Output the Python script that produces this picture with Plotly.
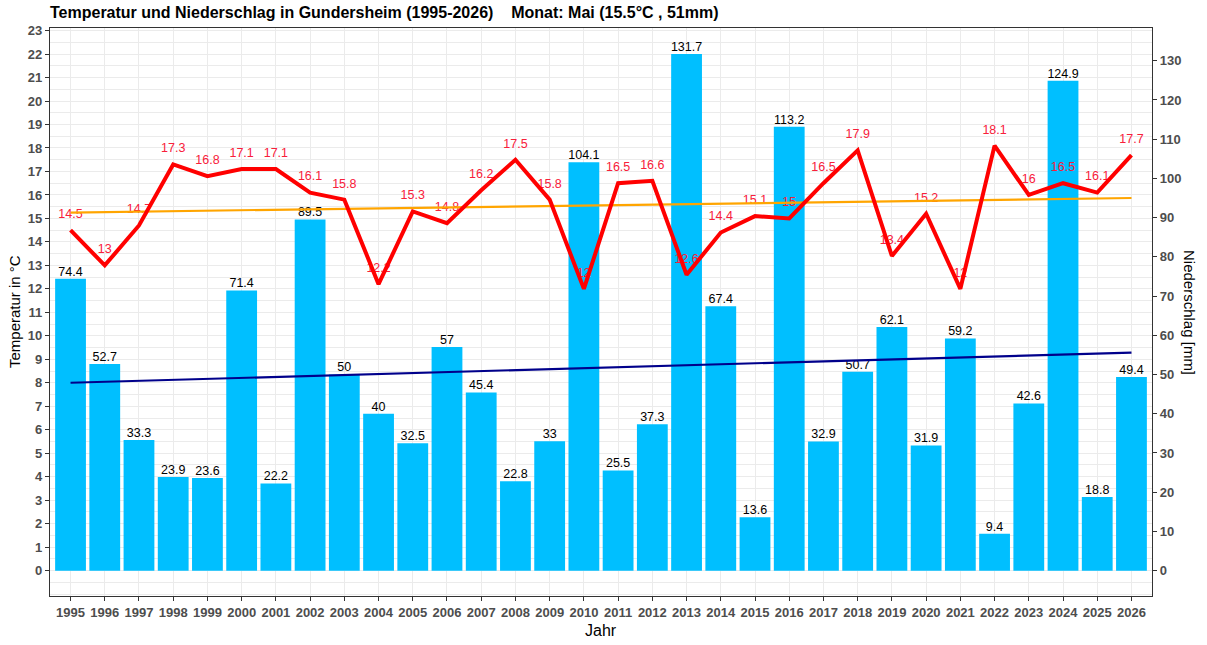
import plotly.graph_objects as go

years = list(range(1995, 2027))
precip_mm = [74.4, 52.7, 33.3, 23.9, 23.6, 71.4, 22.2, 89.5, 50, 40, 32.5, 57, 45.4, 22.8, 33,
             104.1, 25.5, 37.3, 131.7, 67.4, 13.6, 113.2, 32.9, 50.7, 62.1, 31.9, 59.2, 9.4,
             42.6, 124.9, 18.8, 49.4]
temp_c = [14.5, 13, 14.7, 17.3, 16.8, 17.1, 17.1, 16.1, 15.8, 12.2, 15.3, 14.8, 16.2, 17.5, 15.8,
          12, 16.5, 16.6, 12.6, 14.4, 15.1, 15, 16.5, 17.9, 13.4, 15.2, 12, 18.1, 16, 16.5, 16.1, 17.7]
trend_years = [1995, 2026]
temp_trend = [15.25, 15.87]
precip_trend = [47.9, 55.6]
temp_ticks = list(range(0, 24))
precip_ticks = list(range(0, 131, 10))

title_text = ("Temperatur und Niederschlag in Gundersheim (1995-2026)" + "\u00a0" * 4 +
              "Monat: Mai (15.5°C , 51mm)")

NARROW = "Liberation Sans Narrow, Arial Narrow, Liberation Sans, Arial, sans-serif"
SANS = "Liberation Sans, Arial, sans-serif"

scale = 131.7 / 22.0
t_lo, t_hi = -1.08, 23.11
label_offset = 0.65

fig = go.Figure()

fig.add_trace(go.Bar(x=years, y=precip_mm, width=0.9, marker=dict(color="#00BFFF", line=dict(width=0)),
                     yaxis="y", hoverinfo="skip"))
fig.add_trace(go.Scatter(x=years, y=precip_mm, mode="text", text=[f"{v:g}" for v in precip_mm],
                         textposition="top center", textfont=dict(family=SANS, size=12.5, color="black"),
                         yaxis="y", cliponaxis=False))
fig.add_trace(go.Scatter(x=trend_years, y=precip_trend, mode="lines",
                         line=dict(color="#00008B", width=2.2), yaxis="y"))

fig.add_trace(go.Scatter(x=years, y=[t + label_offset for t in temp_c], mode="text",
                         text=[f"{v:g}" for v in temp_c], textposition="middle center",
                         textfont=dict(family=SANS, size=12.5, color="#F8203A"), yaxis="y2"))
fig.add_trace(go.Scatter(x=trend_years, y=temp_trend, mode="lines",
                         line=dict(color="#FFA500", width=2.2), yaxis="y2"))
fig.add_trace(go.Scatter(x=years, y=temp_c, mode="lines",
                         line=dict(color="#FF0000", width=4.0), yaxis="y2"))

tickfont = dict(family=NARROW, size=13, color="#4D4D4D", weight="bold")

fig.update_layout(
    width=1207, height=645,
    margin=dict(l=50, r=55, t=28, b=49),
    paper_bgcolor="white", plot_bgcolor="white",
    showlegend=False,
    title=dict(text=title_text, x=50 / 1207, xanchor="left", y=1 - 12 / 645, yanchor="middle",
               font=dict(family=NARROW, size=16, color="black", weight="bold")),
    xaxis=dict(range=[1994.4, 2026.6], tickmode="array", tickvals=years, ticktext=[str(y) for y in years],
               showgrid=True, gridcolor="#EBEBEB", gridwidth=1, zeroline=False,
               showline=True, linecolor="#333333", linewidth=1.3, mirror=True,
               ticks="outside", ticklen=4, tickcolor="#333333", tickfont=tickfont),
    yaxis=dict(range=[t_lo * scale, t_hi * scale], side="right", tickmode="array", tickvals=precip_ticks,
               showgrid=False, zeroline=False, showline=True, linecolor="#333333", linewidth=1.3,
               ticks="outside", ticklen=4, tickcolor="#333333", tickfont=tickfont),
    yaxis2=dict(range=[t_lo, t_hi], side="left", overlaying="y", tickmode="array", tickvals=temp_ticks,
                showgrid=True, gridcolor="#EBEBEB", gridwidth=1, zeroline=False,
                minor=dict(dtick=0.5, tick0=0, showgrid=True, gridcolor="#EBEBEB", gridwidth=1),
                showline=True, linecolor="#333333", linewidth=1.3, mirror=True,
                ticks="outside", ticklen=4, tickcolor="#333333", tickfont=tickfont),
    annotations=[
        dict(text="Jahr", xref="paper", yref="paper", x=0.5, y=-34 / 568, xanchor="center", yanchor="middle",
             showarrow=False, font=dict(family=SANS, size=16, color="black")),
        dict(text="Temperatur in °C", xref="paper", yref="paper", x=-36 / 1102, y=0.5, textangle=-90,
             xanchor="center", yanchor="middle", showarrow=False, font=dict(family=SANS, size=15, color="black")),
        dict(text="Niederschlag [mm]", xref="paper", yref="paper", x=1 + 38 / 1102, y=0.5, textangle=90,
             xanchor="center", yanchor="middle", showarrow=False, font=dict(family=SANS, size=15, color="black")),
    ],
)

fig.write_html("out.html")
